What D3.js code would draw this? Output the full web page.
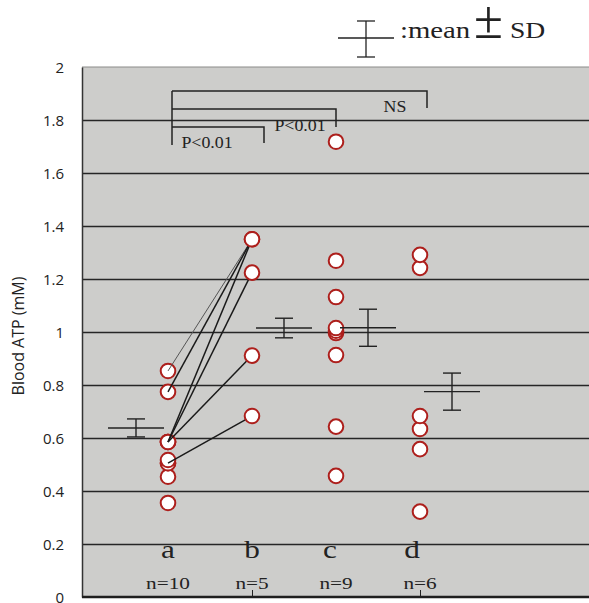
<!DOCTYPE html>
<html>
<head>
<meta charset="utf-8">
<script src="https://cdn.jsdelivr.net/npm/d3@7"></script>
<style>
  body { margin: 0; background: #fff; }
  svg { display: block; }
</style>
</head>
<body>
<div id="chart"></div>
<script>
// groups and their sample sizes
var groups = ["a", "b", "c", "d"]
var nLabels = ["n=10", "n=5", "n=9", "n=6"]

// individual blood ATP values (mM)
var valuesA = [0.853, 0.774, 0.585, 0.585, 0.585, 0.517, 0.505, 0.505, 0.454, 0.355]
var valuesB = [1.35, 1.35, 1.224, 0.911, 0.683]
var valuesC = [1.718, 1.269, 1.132, 1.015, 1.005, 0.996, 0.913, 0.643, 0.457]
var valuesD = [1.291, 1.242, 0.683, 0.634, 0.558, 0.322]

// paired samples a -> b
var pairedA = [0.853, 0.774, 0.585, 0.585, 0.585, 0.505]
var pairedB = [1.35, 1.35, 1.35, 1.224, 0.911, 0.683]

// mean and SD per group
var means = [0.638, 1.015, 1.016, 0.775]
var sds = [0.034, 0.037, 0.07, 0.07]

// comparisons
var compTo = ["d", "c", "b"]
var compLabels = ["NS", "P<0.01", "P<0.01"]

var yTicks = [0, 0.2, 0.4, 0.6, 0.8, 1, 1.2, 1.4, 1.6, 1.8, 2]
var yTickLabels = ["0", "0.2", "0.4", "0.6", "0.8", "1", "1.2", "1.4", "1.6", "1.8", "2"]

var W = 589, H = 603
var margin = { top: 67, right: 0, bottom: 6, left: 82 }
var serif = "'Liberation Serif', 'Times New Roman', serif"
var sans = "'Open Sans', 'DejaVu Sans', sans-serif"
var ink = "#222"

var svg = d3.select("#chart").append("svg")
  .attr("width", W)
  .attr("height", H)

var y = d3.scaleLinear().domain([0, 2]).range([H - margin.bottom, margin.top])
var x = d3.scalePoint().domain(groups).range([168, 420])

// text stretched like the scanned figure
function stext(sel, px, py, str, size, sx, anchor, sy) {
  var g = sel.append("g").attr("transform", "translate(" + px + "," + py + ") scale(" + sx + "," + (sy || 1) + ")")
  return g.append("text")
    .attr("text-anchor", anchor || "middle")
    .style("font-family", serif)
    .style("font-size", size + "px")
    .attr("fill", ink)
    .text(str)
}

// plot background
svg.append("rect")
  .attr("x", margin.left)
  .attr("y", margin.top)
  .attr("width", W - margin.left - margin.right)
  .attr("height", H - margin.top - margin.bottom)
  .attr("fill", "#cdcdcb")

// grid lines
var grid = svg.append("g")
  .attr("transform", "translate(" + margin.left + ",0)")
  .call(d3.axisLeft(y).tickValues(yTicks.slice(1, -1)).tickSize(-(W - margin.left)).tickFormat(""))
grid.select(".domain").remove()
grid.selectAll(".tick line").attr("stroke", "#262626").attr("stroke-width", 1.6)

// top border
svg.append("line")
  .attr("x1", margin.left).attr("x2", W)
  .attr("y1", y(2)).attr("y2", y(2))
  .attr("stroke", "#8c8c8a").attr("stroke-width", 1.2)

// y axis labels
var yAxis = svg.append("g")
  .attr("transform", "translate(" + margin.left + ",0)")
  .call(d3.axisLeft(y).tickValues(yTicks).tickSize(0).tickPadding(18)
    .tickFormat(function (d, i) { return yTickLabels[i] }))
yAxis.select(".domain").attr("stroke", "#333").attr("stroke-width", 1.5)
yAxis.selectAll(".tick text")
  .style("font-family", sans)
  .style("font-size", "15px")
  .attr("fill", ink)
  .attr("dy", "0.36em")

// bottom axis line + ticks at b and d
var xAxis = svg.append("g")
  .attr("transform", "translate(0," + y(0) + ")")
  .call(d3.axisBottom(x).tickValues(["b", "d"]).tickSize(-7).tickFormat(""))
xAxis.select(".domain").remove()
xAxis.selectAll(".tick line").attr("stroke", ink).attr("stroke-width", 1)
svg.append("line")
  .attr("x1", margin.left).attr("x2", W)
  .attr("y1", y(0)).attr("y2", y(0))
  .attr("stroke", "#1e1e1e").attr("stroke-width", 2.5)

// y title
svg.append("text")
  .attr("transform", "translate(24,336) rotate(-90)")
  .attr("text-anchor", "middle")
  .style("font-family", sans)
  .style("font-size", "16px")
  .attr("fill", ink)
  .text("Blood ATP (mM)")

// group letters and n
var letterShift = [0, 0, -6, -8]
groups.forEach(function (g, i) {
  stext(svg, x(g) + letterShift[i], 558, g, 25, 1.25)
  stext(svg, x(g), 589, nLabels[i], 17, 1.25)
})

// brackets
var brLeft = x("a") + 4
var brLevels = [91, 109, 127]
var brDrop = [108, 127, 143]
var brRight = [7, 0, 12]
var brText = [[395, 112], [300, 131], [207, 148]]
var br = svg.append("g").attr("fill", "none").attr("stroke", ink).attr("stroke-width", 1.5)
br.append("line").attr("x1", brLeft).attr("x2", brLeft).attr("y1", brLevels[0]).attr("y2", 145)
compTo.forEach(function (g, i) {
  var rx = x(g) + brRight[i]
  br.append("path").attr("d", "M" + brLeft + "," + brLevels[i] + "H" + rx + "V" + brDrop[i])
  stext(svg, brText[i][0], brText[i][1], compLabels[i], 17, 1.05)
})

var r = 7.3
function dots(vals, g) {
  svg.append("g").selectAll("circle")
    .data(vals.slice().sort(d3.ascending))
    .enter()
    .append("circle")
    .attr("cx", x(g))
    .attr("cy", function (d) { return y(d) })
    .attr("r", r)
    .attr("fill", "#fff")
    .attr("stroke", "#ad1f1c")
    .attr("stroke-width", 2)
}

dots(valuesA, "a")

// paired lines a -> b, ending at the edge of the b circle
svg.append("g").selectAll("line")
  .data(pairedA)
  .enter()
  .append("line")
  .each(function (d, i) {
    var x1 = x("a"), y1 = y(d), x2 = x("b"), y2 = y(pairedB[i])
    var len = Math.hypot(x2 - x1, y2 - y1)
    d3.select(this)
      .attr("x1", x1).attr("y1", y1)
      .attr("x2", x2 - (x2 - x1) / len * r)
      .attr("y2", y2 - (y2 - y1) / len * r)
  })
  .attr("stroke", function (d, i) { return i == 0 ? "#555" : "#1a1a1a" })
  .attr("stroke-width", function (d, i) { return i == 0 ? 1 : 1.5 })

dots(valuesB, "b")
dots(valuesC, "c")
dots(valuesD, "d")

// mean +- SD markers
var meanSide = [-1, 1, 1, 1]
var mk = svg.append("g").attr("stroke", ink).attr("stroke-width", 1.4)
groups.forEach(function (g, i) {
  var cx = x(g) + meanSide[i] * 32
  mk.append("line").attr("x1", cx - 28).attr("x2", cx + 28).attr("y1", y(means[i])).attr("y2", y(means[i]))
  mk.append("line").attr("x1", cx).attr("x2", cx).attr("y1", y(means[i] - sds[i])).attr("y2", y(means[i] + sds[i]))
  mk.append("line").attr("x1", cx - 9).attr("x2", cx + 9).attr("y1", y(means[i] - sds[i])).attr("y2", y(means[i] - sds[i]))
  mk.append("line").attr("x1", cx - 9).attr("x2", cx + 9).attr("y1", y(means[i] + sds[i])).attr("y2", y(means[i] + sds[i]))
})

// legend
var lg = svg.append("g").attr("stroke", ink).attr("stroke-width", 1.3)
lg.append("line").attr("x1", 338).attr("x2", 394).attr("y1", 38).attr("y2", 38)
lg.append("line").attr("x1", 366).attr("x2", 366).attr("y1", 21).attr("y2", 57)
lg.append("line").attr("x1", 357).attr("x2", 375).attr("y1", 21).attr("y2", 21)
lg.append("line").attr("x1", 357).attr("x2", 375).attr("y1", 57).attr("y2", 57)
stext(svg, 400, 38, ":mean", 23, 1.25, "start")
stext(svg, 474, 38, "\u00b1", 34, 1.55, "start", 1.6)
stext(svg, 510, 38, "SD", 23, 1.2, "start")
</script>
</body>
</html>
